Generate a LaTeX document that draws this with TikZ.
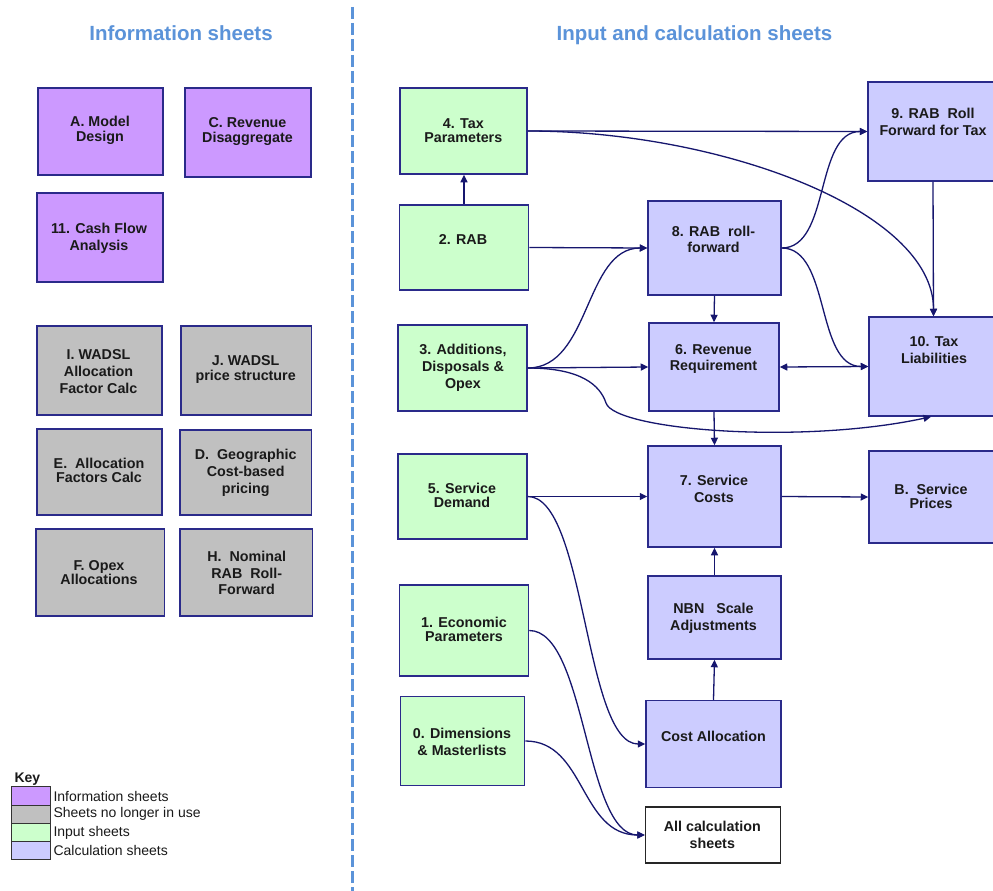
\documentclass[tikz,border=0pt]{standalone}
\usepackage{fontspec}
\setmainfont{Liberation Sans}
\usetikzlibrary{arrows.meta}
\definecolor{infoc}{HTML}{CC99FF}
\definecolor{oldc}{HTML}{C0C0C0}
\definecolor{inpc}{HTML}{CCFFCC}
\definecolor{calcc}{HTML}{CCCCFF}
\definecolor{edgec}{HTML}{2A2A8A}
\definecolor{arrc}{HTML}{16166E}
\definecolor{headc}{HTML}{5B93D9}
\definecolor{txtc}{HTML}{1A1A1A}
\newcommand\sheetbox[6]{\node[#2, minimum width=#5pt, minimum height=#6pt] (#1) at (#3,#4) {};}
\begin{document}
\begin{tikzpicture}[x=1pt,y=-1pt,
  box/.style={draw=edgec, line width=1.5pt, inner sep=0pt},
  infobox/.style={box, fill=infoc},
  oldbox/.style={box, fill=oldc},
  inpbox/.style={box, fill=inpc},
  calcbox/.style={box, fill=calcc},
  plainbox/.style={draw=black!85, line width=1.5pt, fill=white, inner sep=0pt},
  lbl/.style={font=\fontsize{14.3}{#1}\selectfont\bfseries, align=center, text=txtc, inner sep=0pt},
  lbl/.default=16.7,
  head/.style={font=\fontsize{20.5}{24}\selectfont\bfseries, text=headc, anchor=base, inner sep=0pt},
  keyswatch/.style={draw=black!80, line width=1pt, minimum width=39pt, minimum height=18.2pt, inner sep=0pt},
  keytxt/.style={font=\fontsize{14}{16}\selectfont, anchor=west, inner sep=0pt, text=txtc},
  conn/.style={draw=arrc, line width=1.3pt, -{Triangle[length=7.5pt,width=7pt]}},
  conn2/.style={draw=arrc, line width=1.3pt, {Triangle[length=7.5pt,width=7pt]}-{Triangle[length=7.5pt,width=7pt]}},
]
\useasboundingbox[fill=white] (0,0) rectangle (993,891);

% headers and divider
\node[head] (hinfo) at (181,40.5) {Information sheets};
\node[head] (hcalc) at (694.5,40.5) {Input and calculation sheets};
\draw[headc, line width=3pt, dash pattern=on 12pt off 4pt] (352.7,7) -- (352.7,891);

% information sheets
\sheetbox{nA}{infobox}{100.5}{131.5}{125}{87}
\sheetbox{nC}{infobox}{248}{132.5}{126}{89}
\sheetbox{n11}{infobox}{100}{237.5}{126}{89}
\node[lbl=14.4] (tA) at (100,130.5) {A. Model\\Design};
\node[lbl=14.4] (tC) at (247.5,131.5) {C. Revenue\\Disaggregate};
\node[lbl=16.7] (t11) at (99,238) {11. Cash Flow\\Analysis};

% sheets no longer in use
\sheetbox{nI}{oldbox}{99.5}{370.5}{125}{89}
\sheetbox{nJ}{oldbox}{246.3}{370.5}{130.5}{89}
\sheetbox{nE}{oldbox}{99.5}{472}{125}{86}
\sheetbox{nD}{oldbox}{245.8}{472.5}{131.5}{85}
\sheetbox{nF}{oldbox}{100}{572.5}{128.5}{87}
\sheetbox{nH}{oldbox}{246.3}{572.5}{132.5}{87}
\node[lbl=17] (tI) at (98.5,371.5) {I. WADSL\\Allocation\\Factor Calc};
\node[lbl=14.4] (tJ) at (245.7,369.5) {J. WADSL\\price structure};
\node[lbl=14.4] (tE) at (99,470.5) {E.~ Allocation\\Factors Calc};
\node[lbl=17] (tD) at (245.7,472.7) {D.~ Geographic\\Cost-based\\pricing};
\node[lbl=13.7] (tF) at (99,572.5) {F. Opex\\Allocations};
\node[lbl=16.7] (tH) at (246.7,573) {H.~ Nominal\\RAB~ Roll-\\Forward};

% key
\node[font=\fontsize{14}{16}\selectfont\bfseries, anchor=west, inner sep=0pt, text=txtc] (keyt) at (14.3,779) {Key};
\node[keyswatch, fill=infoc] (k1) at (30.5,795.9) {};
\node[keyswatch, fill=oldc] (k2) at (30.5,814.1) {};
\node[keyswatch, fill=inpc] (k3) at (30.5,832.3) {};
\node[keyswatch, fill=calcc] (k4) at (30.5,850.5) {};
\node[keytxt] (kt1) at (53.3,796) {Information sheets};
\node[keytxt] (kt2) at (53.3,814.3) {Sheets no longer in use};
\node[keytxt] (kt3) at (53.3,832.7) {Input sheets};
\node[keytxt] (kt4) at (53.3,850.7) {Calculation sheets};

% input and calculation sheets
\sheetbox{n4}{inpbox}{463.5}{131}{127}{86}
\sheetbox{n2}{inpbox}{464}{247.5}{129}{85}
\sheetbox{n3}{inpbox}{462.5}{368}{129}{86}
\sheetbox{n5}{inpbox}{462.5}{496.5}{129}{85}
\sheetbox{n1}{inpbox}{464}{630.5}{129}{91}
\sheetbox{n0}{inpbox}{462.7}{741}{124}{88.6}
\sheetbox{n8}{calcbox}{714.5}{248}{133}{94}
\sheetbox{n6}{calcbox}{714}{367}{130}{88}
\sheetbox{n7}{calcbox}{714.5}{496.5}{133}{101}
\sheetbox{nN}{calcbox}{714.5}{617.5}{133}{83}
\sheetbox{nCA}{calcbox}{713.5}{744}{135}{87}
\sheetbox{nAll}{plainbox}{713}{835}{135}{56}
\sheetbox{n9}{calcbox}{933}{131.5}{130}{99}
\sheetbox{n10}{calcbox}{933.5}{366.5}{129}{99}
\sheetbox{nB}{calcbox}{933.5}{497}{129}{92}

\node[lbl=14] (t4) at (463.3,130.3) {4. Tax\\Parameters};
\node[lbl] (t2) at (463,240) {2. RAB};
\node[lbl=16.7] (t3) at (463,367.7) {3. Additions,\\Disposals \&\\Opex};
\node[lbl=14.4] (t5) at (462,495.5) {5. Service\\Demand};
\node[lbl=14] (t1) at (464,629.7) {1. Economic\\Parameters};
\node[lbl=16.7] (t0) at (462,741.7) {0. Dimensions\\\& Masterlists};
\node[lbl=16.7] (t8) at (713.5,239.3) {8. RAB~ roll-\\forward};
\node[lbl=16.7] (t6) at (713.5,359) {6. Revenue\\Requirement};
\node[lbl=17] (t7) at (714,489) {7. Service\\Costs};
\node[lbl=17] (tN) at (713.5,618) {NBN~~ Scale\\Adjustments};
\node[lbl] (tCA) at (713.5,736.7) {Cost Allocation};
\node[lbl=16.7] (tAll) at (712.3,835) {All calculation\\sheets};
\node[lbl=17] (t9) at (933,122) {9. RAB~ Roll\\Forward for Tax};
\node[lbl=17] (t10) at (934,350.5) {10. Tax\\Liabilities};
\node[lbl=14] (tB) at (931,496) {B.~ Service\\Prices};

% connectors
\draw[conn] (n2.north) -- (n2.north |- n4.south);
\draw[conn] (n4.east) -- (n9.west);
\draw[conn] (n4.east) .. controls +(193,0) and +(0,-106) .. (n10.north);
\draw[conn] (n9.south) -- (n10.north);
\draw[conn] (n2.east) -- (n8.west);
\draw[conn] (n3.east) .. controls +(63,0) and +(-63,0) .. (n8.west);
\draw[conn] (n3.east) -- (n6.west);
\coordinate (c3a) at (606,403);
\draw[conn] (n3.east) .. controls +(53,0) and (600,385) .. (c3a) .. controls (615,430) and (800,445) .. ([xshift=-2.5pt]n10.south);
\draw[conn] (n8.east) .. controls +(49,0) and +(-53,0) .. (n9.west);
\draw[conn] (n8.east) .. controls +(49,0) and +(-53,0) .. (n10.west);
\draw[conn] (n8.south) -- (n6.north);
\draw[conn2] (n6.east) -- (n10.west);
\draw[conn] (n6.south) -- (n7.north);
\draw[conn] (n5.east) -- (n7.west);
\draw[conn] (n5.east) .. controls +(58,0) and +(-61,0) .. (nCA.west);
\draw[conn] (n7.east) -- (nB.west);
\draw[conn] (nCA.north) -- (nN.south);
\draw[conn] (nN.north) -- (n7.south);
\draw[conn] (n1.east) .. controls +(57,0) and +(-60,0) .. (nAll.west);
\draw[conn] (n0.east) .. controls +(60,0) and +(-65,0) .. (nAll.west);
\end{tikzpicture}
\end{document}
